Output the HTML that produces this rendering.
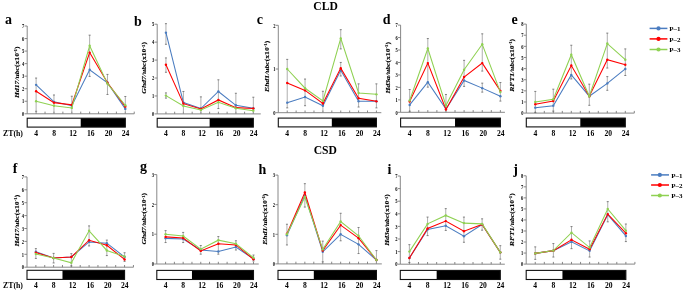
<!DOCTYPE html>
<html><head><meta charset="utf-8"><style>
html,body{margin:0;padding:0;background:#fff;}
body{width:685px;height:292px;overflow:hidden;}
svg{display:block;will-change:transform;}
text{font-family:"Liberation Serif",serif;font-weight:bold;fill:#000;}
.pl{font-size:14px;}
.yt{font-size:5.6px;text-anchor:end;fill:#000;}
.xt{font-size:7.6px;text-anchor:middle;}
.zt{font-size:7.8px;}
.tt{font-size:11.6px;}
.lg{font-size:7.0px;}
.yl{font-size:7.1px;text-anchor:middle;stroke:#000;stroke-width:0.12px;}
.sup{font-size:4.4px;}
.ax{stroke:#7a7a7a;stroke-width:0.9;}
.er{stroke:#9a9a9a;stroke-width:0.8;}
.ec{stroke:#666;stroke-width:0.8;}
.ln{stroke-width:1.05;stroke-linejoin:miter;}
</style></head><body>
<svg width="685" height="292" viewBox="0 0 685 292">
<rect width="685" height="292" fill="#fff"/>
<text x="5" y="23.9" class="pl">a</text>
<line x1="27.2" y1="26" x2="27.2" y2="113.8" class="ax"/>
<line x1="24.6" y1="113.8" x2="27.2" y2="113.8" class="ax"/>
<text transform="translate(24.3,116) scale(0.8,1)" class="yt">0</text>
<line x1="24.6" y1="101.26" x2="27.2" y2="101.26" class="ax"/>
<text transform="translate(24.3,103.46) scale(0.8,1)" class="yt">1</text>
<line x1="24.6" y1="88.71" x2="27.2" y2="88.71" class="ax"/>
<text transform="translate(24.3,90.91) scale(0.8,1)" class="yt">2</text>
<line x1="24.6" y1="76.17" x2="27.2" y2="76.17" class="ax"/>
<text transform="translate(24.3,78.37) scale(0.8,1)" class="yt">3</text>
<line x1="24.6" y1="63.63" x2="27.2" y2="63.63" class="ax"/>
<text transform="translate(24.3,65.83) scale(0.8,1)" class="yt">4</text>
<line x1="24.6" y1="51.09" x2="27.2" y2="51.09" class="ax"/>
<text transform="translate(24.3,53.29) scale(0.8,1)" class="yt">5</text>
<line x1="24.6" y1="38.54" x2="27.2" y2="38.54" class="ax"/>
<text transform="translate(24.3,40.74) scale(0.8,1)" class="yt">6</text>
<line x1="24.6" y1="26" x2="27.2" y2="26" class="ax"/>
<text transform="translate(24.3,28.2) scale(0.8,1)" class="yt">7</text>
<line x1="27.2" y1="113.8" x2="134.24" y2="113.8" class="ax"/>
<line x1="36.12" y1="111.6" x2="36.12" y2="113.8" class="ax"/>
<line x1="45.04" y1="111.6" x2="45.04" y2="113.8" class="ax"/>
<line x1="53.96" y1="111.6" x2="53.96" y2="113.8" class="ax"/>
<line x1="62.88" y1="111.6" x2="62.88" y2="113.8" class="ax"/>
<line x1="71.8" y1="111.6" x2="71.8" y2="113.8" class="ax"/>
<line x1="80.72" y1="111.6" x2="80.72" y2="113.8" class="ax"/>
<line x1="89.64" y1="111.6" x2="89.64" y2="113.8" class="ax"/>
<line x1="98.56" y1="111.6" x2="98.56" y2="113.8" class="ax"/>
<line x1="107.48" y1="111.6" x2="107.48" y2="113.8" class="ax"/>
<line x1="116.4" y1="111.6" x2="116.4" y2="113.8" class="ax"/>
<line x1="125.32" y1="111.6" x2="125.32" y2="113.8" class="ax"/>
<line x1="134.24" y1="111.6" x2="134.24" y2="113.8" class="ax"/>
<line x1="36.12" y1="78.05" x2="36.12" y2="111.29" class="er"/>
<line x1="35.12" y1="78.05" x2="37.12" y2="78.05" class="ec"/>
<line x1="35.12" y1="111.29" x2="37.12" y2="111.29" class="ec"/>
<line x1="53.96" y1="94.99" x2="53.96" y2="113.8" class="er"/>
<line x1="52.96" y1="94.99" x2="54.96" y2="94.99" class="ec"/>
<line x1="71.8" y1="96.24" x2="71.8" y2="113.8" class="er"/>
<line x1="70.8" y1="96.24" x2="72.8" y2="96.24" class="ec"/>
<line x1="89.64" y1="35.16" x2="89.64" y2="76.42" class="er"/>
<line x1="88.64" y1="35.16" x2="90.64" y2="35.16" class="ec"/>
<line x1="88.64" y1="76.42" x2="90.64" y2="76.42" class="ec"/>
<line x1="107.48" y1="74.42" x2="107.48" y2="94.48" class="er"/>
<line x1="106.48" y1="74.42" x2="108.48" y2="74.42" class="ec"/>
<line x1="106.48" y1="94.48" x2="108.48" y2="94.48" class="ec"/>
<line x1="125.32" y1="96.49" x2="125.32" y2="113.8" class="er"/>
<line x1="124.32" y1="96.49" x2="126.32" y2="96.49" class="ec"/>
<polyline points="36.12,84.83 53.96,101.88 71.8,105.65 89.64,69.77 107.48,82.82 125.32,108.91" fill="none" stroke="#4a7cc0" class="ln"/>
<circle cx="36.12" cy="84.83" r="1.2" fill="#4a7cc0"/>
<circle cx="53.96" cy="101.88" r="1.2" fill="#4a7cc0"/>
<circle cx="71.8" cy="105.65" r="1.2" fill="#4a7cc0"/>
<circle cx="89.64" cy="69.77" r="1.2" fill="#4a7cc0"/>
<circle cx="107.48" cy="82.82" r="1.2" fill="#4a7cc0"/>
<circle cx="125.32" cy="108.91" r="1.2" fill="#4a7cc0"/>
<polyline points="36.12,91.22 53.96,102.64 71.8,104.89 89.64,52.59 107.48,82.82 125.32,106.65" fill="none" stroke="#ff0000" class="ln"/>
<circle cx="36.12" cy="91.22" r="1.2" fill="#ff0000"/>
<circle cx="53.96" cy="102.64" r="1.2" fill="#ff0000"/>
<circle cx="71.8" cy="104.89" r="1.2" fill="#ff0000"/>
<circle cx="89.64" cy="52.59" r="1.2" fill="#ff0000"/>
<circle cx="107.48" cy="82.82" r="1.2" fill="#ff0000"/>
<circle cx="125.32" cy="106.65" r="1.2" fill="#ff0000"/>
<polyline points="36.12,101.26 53.96,105.65 71.8,107.9 89.64,45.82 107.48,83.7 125.32,105.27" fill="none" stroke="#8fd152" class="ln"/>
<circle cx="36.12" cy="101.26" r="1.2" fill="#8fd152"/>
<circle cx="53.96" cy="105.65" r="1.2" fill="#8fd152"/>
<circle cx="71.8" cy="107.9" r="1.2" fill="#8fd152"/>
<circle cx="89.64" cy="45.82" r="1.2" fill="#8fd152"/>
<circle cx="107.48" cy="83.7" r="1.2" fill="#8fd152"/>
<circle cx="125.32" cy="105.27" r="1.2" fill="#8fd152"/>
<rect x="80.72" y="118.2" width="44.6" height="8.9" fill="#000"/>
<rect x="27.2" y="118.2" width="98.12" height="8.9" fill="none" stroke="#111" stroke-width="1.1"/>
<text x="36.12" y="136.4" class="xt">4</text>
<text x="54.06" y="136.4" class="xt">8</text>
<text x="73" y="136.4" class="xt">12</text>
<text x="90.74" y="136.4" class="xt">16</text>
<text x="108.48" y="136.4" class="xt">20</text>
<text x="125.62" y="136.4" class="xt">24</text>
<text transform="translate(18.9,72.25) rotate(-90) scale(1.08,1)" class="yl"><tspan font-style="italic">Hd17/ubc</tspan>(x10<tspan class="sup" dy="-1.8">-1</tspan><tspan dy="1.8">)</tspan></text>
<text x="134.1" y="26" class="pl">b</text>
<line x1="157.2" y1="24.2" x2="157.2" y2="113.9" class="ax"/>
<line x1="154.6" y1="113.9" x2="157.2" y2="113.9" class="ax"/>
<text transform="translate(154.3,116.1) scale(0.8,1)" class="yt">0</text>
<line x1="154.6" y1="95.96" x2="157.2" y2="95.96" class="ax"/>
<text transform="translate(154.3,98.16) scale(0.8,1)" class="yt">1</text>
<line x1="154.6" y1="78.02" x2="157.2" y2="78.02" class="ax"/>
<text transform="translate(154.3,80.22) scale(0.8,1)" class="yt">2</text>
<line x1="154.6" y1="60.08" x2="157.2" y2="60.08" class="ax"/>
<text transform="translate(154.3,62.28) scale(0.8,1)" class="yt">3</text>
<line x1="154.6" y1="42.14" x2="157.2" y2="42.14" class="ax"/>
<text transform="translate(154.3,44.34) scale(0.8,1)" class="yt">4</text>
<line x1="154.6" y1="24.2" x2="157.2" y2="24.2" class="ax"/>
<text transform="translate(154.3,26.4) scale(0.8,1)" class="yt">5</text>
<line x1="157.2" y1="113.9" x2="260.77" y2="113.9" class="ax"/>
<line x1="165.94" y1="111.7" x2="165.94" y2="113.9" class="ax"/>
<line x1="174.68" y1="111.7" x2="174.68" y2="113.9" class="ax"/>
<line x1="183.42" y1="111.7" x2="183.42" y2="113.9" class="ax"/>
<line x1="192.16" y1="111.7" x2="192.16" y2="113.9" class="ax"/>
<line x1="200.9" y1="111.7" x2="200.9" y2="113.9" class="ax"/>
<line x1="209.64" y1="111.7" x2="209.64" y2="113.9" class="ax"/>
<line x1="218.38" y1="111.7" x2="218.38" y2="113.9" class="ax"/>
<line x1="227.12" y1="111.7" x2="227.12" y2="113.9" class="ax"/>
<line x1="235.86" y1="111.7" x2="235.86" y2="113.9" class="ax"/>
<line x1="244.6" y1="111.7" x2="244.6" y2="113.9" class="ax"/>
<line x1="253.34" y1="111.7" x2="253.34" y2="113.9" class="ax"/>
<line x1="165.94" y1="23.66" x2="165.94" y2="44.29" class="er"/>
<line x1="164.94" y1="23.66" x2="166.94" y2="23.66" class="ec"/>
<line x1="164.94" y1="44.29" x2="166.94" y2="44.29" class="ec"/>
<line x1="165.94" y1="57.93" x2="165.94" y2="72.28" class="er"/>
<line x1="164.94" y1="57.93" x2="166.94" y2="57.93" class="ec"/>
<line x1="164.94" y1="72.28" x2="166.94" y2="72.28" class="ec"/>
<line x1="165.94" y1="92.91" x2="165.94" y2="98.11" class="er"/>
<line x1="164.94" y1="92.91" x2="166.94" y2="92.91" class="ec"/>
<line x1="164.94" y1="98.11" x2="166.94" y2="98.11" class="ec"/>
<line x1="183.42" y1="91.48" x2="183.42" y2="113.9" class="er"/>
<line x1="182.42" y1="91.48" x2="184.42" y2="91.48" class="ec"/>
<line x1="200.9" y1="96.86" x2="200.9" y2="113.9" class="er"/>
<line x1="199.9" y1="96.86" x2="201.9" y2="96.86" class="ec"/>
<line x1="218.38" y1="79.81" x2="218.38" y2="108.52" class="er"/>
<line x1="217.38" y1="79.81" x2="219.38" y2="79.81" class="ec"/>
<line x1="217.38" y1="108.52" x2="219.38" y2="108.52" class="ec"/>
<line x1="235.86" y1="93.27" x2="235.86" y2="113.9" class="er"/>
<line x1="234.86" y1="93.27" x2="236.86" y2="93.27" class="ec"/>
<line x1="253.34" y1="97.22" x2="253.34" y2="113.9" class="er"/>
<line x1="252.34" y1="97.22" x2="254.34" y2="97.22" class="ec"/>
<polyline points="165.94,32.63 183.42,102.6 200.9,108.52 218.38,91.48 235.86,105.29 253.34,108.34" fill="none" stroke="#4a7cc0" class="ln"/>
<circle cx="165.94" cy="32.63" r="1.2" fill="#4a7cc0"/>
<circle cx="183.42" cy="102.6" r="1.2" fill="#4a7cc0"/>
<circle cx="200.9" cy="108.52" r="1.2" fill="#4a7cc0"/>
<circle cx="218.38" cy="91.48" r="1.2" fill="#4a7cc0"/>
<circle cx="235.86" cy="105.29" r="1.2" fill="#4a7cc0"/>
<circle cx="253.34" cy="108.34" r="1.2" fill="#4a7cc0"/>
<polyline points="165.94,64.74 183.42,103.67 200.9,108.88 218.38,99.91 235.86,107.62 253.34,108.52" fill="none" stroke="#ff0000" class="ln"/>
<circle cx="165.94" cy="64.74" r="1.2" fill="#ff0000"/>
<circle cx="183.42" cy="103.67" r="1.2" fill="#ff0000"/>
<circle cx="200.9" cy="108.88" r="1.2" fill="#ff0000"/>
<circle cx="218.38" cy="99.91" r="1.2" fill="#ff0000"/>
<circle cx="235.86" cy="107.62" r="1.2" fill="#ff0000"/>
<circle cx="253.34" cy="108.52" r="1.2" fill="#ff0000"/>
<polyline points="165.94,95.6 183.42,106.01 200.9,109.95 218.38,102.24 235.86,108.34 253.34,110.67" fill="none" stroke="#8fd152" class="ln"/>
<circle cx="165.94" cy="95.6" r="1.2" fill="#8fd152"/>
<circle cx="183.42" cy="106.01" r="1.2" fill="#8fd152"/>
<circle cx="200.9" cy="109.95" r="1.2" fill="#8fd152"/>
<circle cx="218.38" cy="102.24" r="1.2" fill="#8fd152"/>
<circle cx="235.86" cy="108.34" r="1.2" fill="#8fd152"/>
<circle cx="253.34" cy="110.67" r="1.2" fill="#8fd152"/>
<rect x="209.64" y="118.3" width="43.7" height="8.8" fill="#000"/>
<rect x="157.2" y="118.3" width="96.14" height="8.8" fill="none" stroke="#111" stroke-width="1.1"/>
<text x="165.94" y="136.4" class="xt">4</text>
<text x="183.52" y="136.4" class="xt">8</text>
<text x="202.1" y="136.4" class="xt">12</text>
<text x="219.48" y="136.4" class="xt">16</text>
<text x="236.86" y="136.4" class="xt">20</text>
<text x="253.64" y="136.4" class="xt">24</text>
<text transform="translate(146.3,67.85) rotate(-90) scale(1.08,1)" class="yl"><tspan font-style="italic">Ghd7/ubc</tspan>(x10<tspan class="sup" dy="-1.8">-1</tspan><tspan dy="1.8">)</tspan></text>
<text x="256.7" y="23.9" class="pl">c</text>
<line x1="278.3" y1="25.3" x2="278.3" y2="112.7" class="ax"/>
<line x1="275.7" y1="112.7" x2="278.3" y2="112.7" class="ax"/>
<text transform="translate(275.4,114.9) scale(0.8,1)" class="yt">0</text>
<line x1="275.7" y1="69" x2="278.3" y2="69" class="ax"/>
<text transform="translate(275.4,71.2) scale(0.8,1)" class="yt">1</text>
<line x1="275.7" y1="25.3" x2="278.3" y2="25.3" class="ax"/>
<text transform="translate(275.4,27.5) scale(0.8,1)" class="yt">2</text>
<line x1="278.3" y1="112.7" x2="381.33" y2="112.7" class="ax"/>
<line x1="287.22" y1="110.5" x2="287.22" y2="112.7" class="ax"/>
<line x1="296.14" y1="110.5" x2="296.14" y2="112.7" class="ax"/>
<line x1="305.06" y1="110.5" x2="305.06" y2="112.7" class="ax"/>
<line x1="313.98" y1="110.5" x2="313.98" y2="112.7" class="ax"/>
<line x1="322.9" y1="110.5" x2="322.9" y2="112.7" class="ax"/>
<line x1="331.82" y1="110.5" x2="331.82" y2="112.7" class="ax"/>
<line x1="340.74" y1="110.5" x2="340.74" y2="112.7" class="ax"/>
<line x1="349.66" y1="110.5" x2="349.66" y2="112.7" class="ax"/>
<line x1="358.58" y1="110.5" x2="358.58" y2="112.7" class="ax"/>
<line x1="367.5" y1="110.5" x2="367.5" y2="112.7" class="ax"/>
<line x1="376.42" y1="110.5" x2="376.42" y2="112.7" class="ax"/>
<line x1="287.22" y1="59.39" x2="287.22" y2="107.89" class="er"/>
<line x1="286.22" y1="59.39" x2="288.22" y2="59.39" class="ec"/>
<line x1="286.22" y1="107.89" x2="288.22" y2="107.89" class="ec"/>
<line x1="305.06" y1="79.05" x2="305.06" y2="105.71" class="er"/>
<line x1="304.06" y1="79.05" x2="306.06" y2="79.05" class="ec"/>
<line x1="304.06" y1="105.71" x2="306.06" y2="105.71" class="ec"/>
<line x1="322.9" y1="91.29" x2="322.9" y2="112.7" class="er"/>
<line x1="321.9" y1="91.29" x2="323.9" y2="91.29" class="ec"/>
<line x1="340.74" y1="29.67" x2="340.74" y2="48.9" class="er"/>
<line x1="339.74" y1="29.67" x2="341.74" y2="29.67" class="ec"/>
<line x1="339.74" y1="48.9" x2="341.74" y2="48.9" class="ec"/>
<line x1="340.74" y1="62.45" x2="340.74" y2="75.99" class="er"/>
<line x1="339.74" y1="62.45" x2="341.74" y2="62.45" class="ec"/>
<line x1="339.74" y1="75.99" x2="341.74" y2="75.99" class="ec"/>
<line x1="358.58" y1="83.86" x2="358.58" y2="107.02" class="er"/>
<line x1="357.58" y1="83.86" x2="359.58" y2="83.86" class="ec"/>
<line x1="357.58" y1="107.02" x2="359.58" y2="107.02" class="ec"/>
<line x1="376.42" y1="83.86" x2="376.42" y2="107.89" class="er"/>
<line x1="375.42" y1="83.86" x2="377.42" y2="83.86" class="ec"/>
<line x1="375.42" y1="107.89" x2="377.42" y2="107.89" class="ec"/>
<polyline points="287.22,102.65 305.06,96.97 322.9,105.71 340.74,70.31 358.58,101.34 376.42,101.34" fill="none" stroke="#4a7cc0" class="ln"/>
<circle cx="287.22" cy="102.65" r="1.2" fill="#4a7cc0"/>
<circle cx="305.06" cy="96.97" r="1.2" fill="#4a7cc0"/>
<circle cx="322.9" cy="105.71" r="1.2" fill="#4a7cc0"/>
<circle cx="340.74" cy="70.31" r="1.2" fill="#4a7cc0"/>
<circle cx="358.58" cy="101.34" r="1.2" fill="#4a7cc0"/>
<circle cx="376.42" cy="101.34" r="1.2" fill="#4a7cc0"/>
<polyline points="287.22,82.98 305.06,90.41 322.9,103.52 340.74,68.13 358.58,98.28 376.42,101.34" fill="none" stroke="#ff0000" class="ln"/>
<circle cx="287.22" cy="82.98" r="1.2" fill="#ff0000"/>
<circle cx="305.06" cy="90.41" r="1.2" fill="#ff0000"/>
<circle cx="322.9" cy="103.52" r="1.2" fill="#ff0000"/>
<circle cx="340.74" cy="68.13" r="1.2" fill="#ff0000"/>
<circle cx="358.58" cy="98.28" r="1.2" fill="#ff0000"/>
<circle cx="376.42" cy="101.34" r="1.2" fill="#ff0000"/>
<polyline points="287.22,69 305.06,88.23 322.9,100.9 340.74,38.41 358.58,93.03 376.42,94.35" fill="none" stroke="#8fd152" class="ln"/>
<circle cx="287.22" cy="69" r="1.2" fill="#8fd152"/>
<circle cx="305.06" cy="88.23" r="1.2" fill="#8fd152"/>
<circle cx="322.9" cy="100.9" r="1.2" fill="#8fd152"/>
<circle cx="340.74" cy="38.41" r="1.2" fill="#8fd152"/>
<circle cx="358.58" cy="93.03" r="1.2" fill="#8fd152"/>
<circle cx="376.42" cy="94.35" r="1.2" fill="#8fd152"/>
<rect x="331.82" y="118.1" width="44.6" height="8.8" fill="#000"/>
<rect x="278.3" y="118.1" width="98.12" height="8.8" fill="none" stroke="#111" stroke-width="1.1"/>
<text x="287.22" y="136.4" class="xt">4</text>
<text x="305.16" y="136.4" class="xt">8</text>
<text x="324.1" y="136.4" class="xt">12</text>
<text x="341.84" y="136.4" class="xt">16</text>
<text x="359.58" y="136.4" class="xt">20</text>
<text x="376.72" y="136.4" class="xt">24</text>
<text transform="translate(268.7,66.3) rotate(-90) scale(1.08,1)" class="yl"><tspan font-style="italic">Ehd1/ubc</tspan>(x10<tspan class="sup" dy="-1.8">-1</tspan><tspan dy="1.8">)</tspan></text>
<text x="382.7" y="24.1" class="pl">d</text>
<line x1="400.6" y1="25.1" x2="400.6" y2="112.3" class="ax"/>
<line x1="398" y1="112.3" x2="400.6" y2="112.3" class="ax"/>
<text transform="translate(397.7,114.5) scale(0.8,1)" class="yt">0</text>
<line x1="398" y1="99.84" x2="400.6" y2="99.84" class="ax"/>
<text transform="translate(397.7,102.04) scale(0.8,1)" class="yt">1</text>
<line x1="398" y1="87.39" x2="400.6" y2="87.39" class="ax"/>
<text transform="translate(397.7,89.59) scale(0.8,1)" class="yt">2</text>
<line x1="398" y1="74.93" x2="400.6" y2="74.93" class="ax"/>
<text transform="translate(397.7,77.13) scale(0.8,1)" class="yt">3</text>
<line x1="398" y1="62.47" x2="400.6" y2="62.47" class="ax"/>
<text transform="translate(397.7,64.67) scale(0.8,1)" class="yt">4</text>
<line x1="398" y1="50.01" x2="400.6" y2="50.01" class="ax"/>
<text transform="translate(397.7,52.21) scale(0.8,1)" class="yt">5</text>
<line x1="398" y1="37.56" x2="400.6" y2="37.56" class="ax"/>
<text transform="translate(397.7,39.76) scale(0.8,1)" class="yt">6</text>
<line x1="398" y1="25.1" x2="400.6" y2="25.1" class="ax"/>
<text transform="translate(397.7,27.3) scale(0.8,1)" class="yt">7</text>
<line x1="400.6" y1="112.3" x2="504.93" y2="112.3" class="ax"/>
<line x1="409.67" y1="110.1" x2="409.67" y2="112.3" class="ax"/>
<line x1="418.74" y1="110.1" x2="418.74" y2="112.3" class="ax"/>
<line x1="427.82" y1="110.1" x2="427.82" y2="112.3" class="ax"/>
<line x1="436.89" y1="110.1" x2="436.89" y2="112.3" class="ax"/>
<line x1="445.96" y1="110.1" x2="445.96" y2="112.3" class="ax"/>
<line x1="455.03" y1="110.1" x2="455.03" y2="112.3" class="ax"/>
<line x1="464.1" y1="110.1" x2="464.1" y2="112.3" class="ax"/>
<line x1="473.18" y1="110.1" x2="473.18" y2="112.3" class="ax"/>
<line x1="482.25" y1="110.1" x2="482.25" y2="112.3" class="ax"/>
<line x1="491.32" y1="110.1" x2="491.32" y2="112.3" class="ax"/>
<line x1="500.39" y1="110.1" x2="500.39" y2="112.3" class="ax"/>
<line x1="409.67" y1="89.5" x2="409.67" y2="111.3" class="er"/>
<line x1="408.67" y1="89.5" x2="410.67" y2="89.5" class="ec"/>
<line x1="408.67" y1="111.3" x2="410.67" y2="111.3" class="ec"/>
<line x1="427.82" y1="38.55" x2="427.82" y2="87.14" class="er"/>
<line x1="426.82" y1="38.55" x2="428.82" y2="38.55" class="ec"/>
<line x1="426.82" y1="87.14" x2="428.82" y2="87.14" class="ec"/>
<line x1="445.96" y1="94.49" x2="445.96" y2="112.3" class="er"/>
<line x1="444.96" y1="94.49" x2="446.96" y2="94.49" class="ec"/>
<line x1="464.1" y1="60.35" x2="464.1" y2="86.39" class="er"/>
<line x1="463.1" y1="60.35" x2="465.1" y2="60.35" class="ec"/>
<line x1="463.1" y1="86.39" x2="465.1" y2="86.39" class="ec"/>
<line x1="482.25" y1="33.82" x2="482.25" y2="71.07" class="er"/>
<line x1="481.25" y1="33.82" x2="483.25" y2="33.82" class="ec"/>
<line x1="481.25" y1="71.07" x2="483.25" y2="71.07" class="ec"/>
<line x1="482.25" y1="83.15" x2="482.25" y2="92.12" class="er"/>
<line x1="481.25" y1="83.15" x2="483.25" y2="83.15" class="ec"/>
<line x1="481.25" y1="92.12" x2="483.25" y2="92.12" class="ec"/>
<line x1="500.39" y1="82.53" x2="500.39" y2="101.09" class="er"/>
<line x1="499.39" y1="82.53" x2="501.39" y2="82.53" class="ec"/>
<line x1="499.39" y1="101.09" x2="501.39" y2="101.09" class="ec"/>
<polyline points="409.67,104.95 427.82,82.15 445.96,108.94 464.1,80.41 482.25,88.13 500.39,96.23" fill="none" stroke="#4a7cc0" class="ln"/>
<circle cx="409.67" cy="104.95" r="1.2" fill="#4a7cc0"/>
<circle cx="427.82" cy="82.15" r="1.2" fill="#4a7cc0"/>
<circle cx="445.96" cy="108.94" r="1.2" fill="#4a7cc0"/>
<circle cx="464.1" cy="80.41" r="1.2" fill="#4a7cc0"/>
<circle cx="482.25" cy="88.13" r="1.2" fill="#4a7cc0"/>
<circle cx="500.39" cy="96.23" r="1.2" fill="#4a7cc0"/>
<polyline points="409.67,101.46 427.82,63.09 445.96,109.56 464.1,77.05 482.25,63.09 500.39,90.87" fill="none" stroke="#ff0000" class="ln"/>
<circle cx="409.67" cy="101.46" r="1.2" fill="#ff0000"/>
<circle cx="427.82" cy="63.09" r="1.2" fill="#ff0000"/>
<circle cx="445.96" cy="109.56" r="1.2" fill="#ff0000"/>
<circle cx="464.1" cy="77.05" r="1.2" fill="#ff0000"/>
<circle cx="482.25" cy="63.09" r="1.2" fill="#ff0000"/>
<circle cx="500.39" cy="90.87" r="1.2" fill="#ff0000"/>
<polyline points="409.67,100.47 427.82,48.52 445.96,105.57 464.1,69.7 482.25,44.28 500.39,92.12" fill="none" stroke="#8fd152" class="ln"/>
<circle cx="409.67" cy="100.47" r="1.2" fill="#8fd152"/>
<circle cx="427.82" cy="48.52" r="1.2" fill="#8fd152"/>
<circle cx="445.96" cy="105.57" r="1.2" fill="#8fd152"/>
<circle cx="464.1" cy="69.7" r="1.2" fill="#8fd152"/>
<circle cx="482.25" cy="44.28" r="1.2" fill="#8fd152"/>
<circle cx="500.39" cy="92.12" r="1.2" fill="#8fd152"/>
<rect x="455.03" y="118.1" width="45.36" height="8.8" fill="#000"/>
<rect x="400.6" y="118.1" width="99.79" height="8.8" fill="none" stroke="#111" stroke-width="1.1"/>
<text x="409.67" y="136.4" class="xt">4</text>
<text x="427.92" y="136.4" class="xt">8</text>
<text x="447.16" y="136.4" class="xt">12</text>
<text x="465.2" y="136.4" class="xt">16</text>
<text x="483.25" y="136.4" class="xt">20</text>
<text x="500.69" y="136.4" class="xt">24</text>
<text transform="translate(389.8,67.75) rotate(-90) scale(1.08,1)" class="yl"><tspan font-style="italic">Hd3a/ubc</tspan>(x10<tspan class="sup" dy="-1.8">-1</tspan><tspan dy="1.8">)</tspan></text>
<text x="511.6" y="23.5" class="pl">e</text>
<line x1="526.3" y1="24.1" x2="526.3" y2="113.1" class="ax"/>
<line x1="523.7" y1="113.1" x2="526.3" y2="113.1" class="ax"/>
<text transform="translate(523.4,115.3) scale(0.8,1)" class="yt">0</text>
<line x1="523.7" y1="101.97" x2="526.3" y2="101.97" class="ax"/>
<text transform="translate(523.4,104.17) scale(0.8,1)" class="yt">1</text>
<line x1="523.7" y1="90.85" x2="526.3" y2="90.85" class="ax"/>
<text transform="translate(523.4,93.05) scale(0.8,1)" class="yt">2</text>
<line x1="523.7" y1="79.72" x2="526.3" y2="79.72" class="ax"/>
<text transform="translate(523.4,81.92) scale(0.8,1)" class="yt">3</text>
<line x1="523.7" y1="68.6" x2="526.3" y2="68.6" class="ax"/>
<text transform="translate(523.4,70.8) scale(0.8,1)" class="yt">4</text>
<line x1="523.7" y1="57.47" x2="526.3" y2="57.47" class="ax"/>
<text transform="translate(523.4,59.67) scale(0.8,1)" class="yt">5</text>
<line x1="523.7" y1="46.35" x2="526.3" y2="46.35" class="ax"/>
<text transform="translate(523.4,48.55) scale(0.8,1)" class="yt">6</text>
<line x1="523.7" y1="35.22" x2="526.3" y2="35.22" class="ax"/>
<text transform="translate(523.4,37.42) scale(0.8,1)" class="yt">7</text>
<line x1="523.7" y1="24.1" x2="526.3" y2="24.1" class="ax"/>
<text transform="translate(523.4,26.3) scale(0.8,1)" class="yt">8</text>
<line x1="526.3" y1="113.1" x2="634.3" y2="113.1" class="ax"/>
<line x1="535.3" y1="110.9" x2="535.3" y2="113.1" class="ax"/>
<line x1="544.3" y1="110.9" x2="544.3" y2="113.1" class="ax"/>
<line x1="553.3" y1="110.9" x2="553.3" y2="113.1" class="ax"/>
<line x1="562.3" y1="110.9" x2="562.3" y2="113.1" class="ax"/>
<line x1="571.3" y1="110.9" x2="571.3" y2="113.1" class="ax"/>
<line x1="580.3" y1="110.9" x2="580.3" y2="113.1" class="ax"/>
<line x1="589.3" y1="110.9" x2="589.3" y2="113.1" class="ax"/>
<line x1="598.3" y1="110.9" x2="598.3" y2="113.1" class="ax"/>
<line x1="607.3" y1="110.9" x2="607.3" y2="113.1" class="ax"/>
<line x1="616.3" y1="110.9" x2="616.3" y2="113.1" class="ax"/>
<line x1="625.3" y1="110.9" x2="625.3" y2="113.1" class="ax"/>
<line x1="634.3" y1="110.9" x2="634.3" y2="113.1" class="ax"/>
<line x1="535.3" y1="91.41" x2="535.3" y2="112.54" class="er"/>
<line x1="534.3" y1="91.41" x2="536.3" y2="91.41" class="ec"/>
<line x1="534.3" y1="112.54" x2="536.3" y2="112.54" class="ec"/>
<line x1="553.3" y1="89.18" x2="553.3" y2="111.1" class="er"/>
<line x1="552.3" y1="89.18" x2="554.3" y2="89.18" class="ec"/>
<line x1="552.3" y1="111.1" x2="554.3" y2="111.1" class="ec"/>
<line x1="571.3" y1="45.24" x2="571.3" y2="78.95" class="er"/>
<line x1="570.3" y1="45.24" x2="572.3" y2="45.24" class="ec"/>
<line x1="570.3" y1="78.95" x2="572.3" y2="78.95" class="ec"/>
<line x1="589.3" y1="84.17" x2="589.3" y2="105.31" class="er"/>
<line x1="588.3" y1="84.17" x2="590.3" y2="84.17" class="ec"/>
<line x1="588.3" y1="105.31" x2="590.3" y2="105.31" class="ec"/>
<line x1="607.3" y1="33.11" x2="607.3" y2="68.04" class="er"/>
<line x1="606.3" y1="33.11" x2="608.3" y2="33.11" class="ec"/>
<line x1="606.3" y1="68.04" x2="608.3" y2="68.04" class="ec"/>
<line x1="607.3" y1="76.61" x2="607.3" y2="90.29" class="er"/>
<line x1="606.3" y1="76.61" x2="608.3" y2="76.61" class="ec"/>
<line x1="606.3" y1="90.29" x2="608.3" y2="90.29" class="ec"/>
<line x1="625.3" y1="48.91" x2="625.3" y2="75.5" class="er"/>
<line x1="624.3" y1="48.91" x2="626.3" y2="48.91" class="ec"/>
<line x1="624.3" y1="75.5" x2="626.3" y2="75.5" class="ec"/>
<polyline points="535.3,107.65 553.3,105.65 571.3,74.94 589.3,96.19 607.3,83.4 625.3,68.93" fill="none" stroke="#4a7cc0" class="ln"/>
<circle cx="535.3" cy="107.65" r="1.2" fill="#4a7cc0"/>
<circle cx="553.3" cy="105.65" r="1.2" fill="#4a7cc0"/>
<circle cx="571.3" cy="74.94" r="1.2" fill="#4a7cc0"/>
<circle cx="589.3" cy="96.19" r="1.2" fill="#4a7cc0"/>
<circle cx="607.3" cy="83.4" r="1.2" fill="#4a7cc0"/>
<circle cx="625.3" cy="68.93" r="1.2" fill="#4a7cc0"/>
<polyline points="535.3,104.31 553.3,100.97 571.3,65.48 589.3,96.19 607.3,59.7 625.3,64.71" fill="none" stroke="#ff0000" class="ln"/>
<circle cx="535.3" cy="104.31" r="1.2" fill="#ff0000"/>
<circle cx="553.3" cy="100.97" r="1.2" fill="#ff0000"/>
<circle cx="571.3" cy="65.48" r="1.2" fill="#ff0000"/>
<circle cx="589.3" cy="96.19" r="1.2" fill="#ff0000"/>
<circle cx="607.3" cy="59.7" r="1.2" fill="#ff0000"/>
<circle cx="625.3" cy="64.71" r="1.2" fill="#ff0000"/>
<polyline points="535.3,101.97 553.3,99.3 571.3,54.69 589.3,96.19 607.3,43.57 625.3,59.7" fill="none" stroke="#8fd152" class="ln"/>
<circle cx="535.3" cy="101.97" r="1.2" fill="#8fd152"/>
<circle cx="553.3" cy="99.3" r="1.2" fill="#8fd152"/>
<circle cx="571.3" cy="54.69" r="1.2" fill="#8fd152"/>
<circle cx="589.3" cy="96.19" r="1.2" fill="#8fd152"/>
<circle cx="607.3" cy="43.57" r="1.2" fill="#8fd152"/>
<circle cx="625.3" cy="59.7" r="1.2" fill="#8fd152"/>
<rect x="580.3" y="118.1" width="45" height="8.8" fill="#000"/>
<rect x="526.3" y="118.1" width="99" height="8.8" fill="none" stroke="#111" stroke-width="1.1"/>
<text x="535.3" y="136.4" class="xt">4</text>
<text x="553.4" y="136.4" class="xt">8</text>
<text x="572.5" y="136.4" class="xt">12</text>
<text x="590.4" y="136.4" class="xt">16</text>
<text x="608.3" y="136.4" class="xt">20</text>
<text x="625.6" y="136.4" class="xt">24</text>
<text transform="translate(513.7,65.3) rotate(-90) scale(1.08,1)" class="yl"><tspan font-style="italic">RFT1/ubc</tspan>(x10<tspan class="sup" dy="-1.8">-1</tspan><tspan dy="1.8">)</tspan></text>
<text x="12.8" y="173.4" class="pl">f</text>
<line x1="27" y1="176.9" x2="27" y2="267.2" class="ax"/>
<line x1="24.4" y1="267.2" x2="27" y2="267.2" class="ax"/>
<text transform="translate(24.1,269.4) scale(0.8,1)" class="yt">0</text>
<line x1="24.4" y1="254.3" x2="27" y2="254.3" class="ax"/>
<text transform="translate(24.1,256.5) scale(0.8,1)" class="yt">1</text>
<line x1="24.4" y1="241.4" x2="27" y2="241.4" class="ax"/>
<text transform="translate(24.1,243.6) scale(0.8,1)" class="yt">2</text>
<line x1="24.4" y1="228.5" x2="27" y2="228.5" class="ax"/>
<text transform="translate(24.1,230.7) scale(0.8,1)" class="yt">3</text>
<line x1="24.4" y1="215.6" x2="27" y2="215.6" class="ax"/>
<text transform="translate(24.1,217.8) scale(0.8,1)" class="yt">4</text>
<line x1="24.4" y1="202.7" x2="27" y2="202.7" class="ax"/>
<text transform="translate(24.1,204.9) scale(0.8,1)" class="yt">5</text>
<line x1="24.4" y1="189.8" x2="27" y2="189.8" class="ax"/>
<text transform="translate(24.1,192) scale(0.8,1)" class="yt">6</text>
<line x1="24.4" y1="176.9" x2="27" y2="176.9" class="ax"/>
<text transform="translate(24.1,179.1) scale(0.8,1)" class="yt">7</text>
<line x1="27" y1="267.2" x2="133.44" y2="267.2" class="ax"/>
<line x1="35.87" y1="265" x2="35.87" y2="267.2" class="ax"/>
<line x1="44.74" y1="265" x2="44.74" y2="267.2" class="ax"/>
<line x1="53.61" y1="265" x2="53.61" y2="267.2" class="ax"/>
<line x1="62.48" y1="265" x2="62.48" y2="267.2" class="ax"/>
<line x1="71.35" y1="265" x2="71.35" y2="267.2" class="ax"/>
<line x1="80.22" y1="265" x2="80.22" y2="267.2" class="ax"/>
<line x1="89.09" y1="265" x2="89.09" y2="267.2" class="ax"/>
<line x1="97.96" y1="265" x2="97.96" y2="267.2" class="ax"/>
<line x1="106.83" y1="265" x2="106.83" y2="267.2" class="ax"/>
<line x1="115.7" y1="265" x2="115.7" y2="267.2" class="ax"/>
<line x1="124.57" y1="265" x2="124.57" y2="267.2" class="ax"/>
<line x1="133.44" y1="265" x2="133.44" y2="267.2" class="ax"/>
<line x1="35.87" y1="248.62" x2="35.87" y2="258.43" class="er"/>
<line x1="34.87" y1="248.62" x2="36.87" y2="248.62" class="ec"/>
<line x1="34.87" y1="258.43" x2="36.87" y2="258.43" class="ec"/>
<line x1="53.61" y1="253.4" x2="53.61" y2="262.94" class="er"/>
<line x1="52.61" y1="253.4" x2="54.61" y2="253.4" class="ec"/>
<line x1="52.61" y1="262.94" x2="54.61" y2="262.94" class="ec"/>
<line x1="71.35" y1="253.66" x2="71.35" y2="265.91" class="er"/>
<line x1="70.35" y1="253.66" x2="72.35" y2="253.66" class="ec"/>
<line x1="70.35" y1="265.91" x2="72.35" y2="265.91" class="ec"/>
<line x1="89.09" y1="225.92" x2="89.09" y2="245.91" class="er"/>
<line x1="88.09" y1="225.92" x2="90.09" y2="225.92" class="ec"/>
<line x1="88.09" y1="245.91" x2="90.09" y2="245.91" class="ec"/>
<line x1="106.83" y1="240.11" x2="106.83" y2="255.59" class="er"/>
<line x1="105.83" y1="240.11" x2="107.83" y2="240.11" class="ec"/>
<line x1="105.83" y1="255.59" x2="107.83" y2="255.59" class="ec"/>
<line x1="124.57" y1="252.75" x2="124.57" y2="261.39" class="er"/>
<line x1="123.57" y1="252.75" x2="125.57" y2="252.75" class="ec"/>
<line x1="123.57" y1="261.39" x2="125.57" y2="261.39" class="ec"/>
<polyline points="35.87,251.72 53.61,258.04 71.35,257.01 89.09,241.92 106.83,243.21 124.57,257.01" fill="none" stroke="#4a7cc0" class="ln"/>
<circle cx="35.87" cy="251.72" r="1.2" fill="#4a7cc0"/>
<circle cx="53.61" cy="258.04" r="1.2" fill="#4a7cc0"/>
<circle cx="71.35" cy="257.01" r="1.2" fill="#4a7cc0"/>
<circle cx="89.09" cy="241.92" r="1.2" fill="#4a7cc0"/>
<circle cx="106.83" cy="243.21" r="1.2" fill="#4a7cc0"/>
<circle cx="124.57" cy="257.01" r="1.2" fill="#4a7cc0"/>
<polyline points="35.87,252.62 53.61,258.04 71.35,257.01 89.09,240.24 106.83,245.27 124.57,259.46" fill="none" stroke="#ff0000" class="ln"/>
<circle cx="35.87" cy="252.62" r="1.2" fill="#ff0000"/>
<circle cx="53.61" cy="258.04" r="1.2" fill="#ff0000"/>
<circle cx="71.35" cy="257.01" r="1.2" fill="#ff0000"/>
<circle cx="89.09" cy="240.24" r="1.2" fill="#ff0000"/>
<circle cx="106.83" cy="245.27" r="1.2" fill="#ff0000"/>
<circle cx="124.57" cy="259.46" r="1.2" fill="#ff0000"/>
<polyline points="35.87,254.04 53.61,258.04 71.35,262.81 89.09,230.82 106.83,250.43 124.57,256.49" fill="none" stroke="#8fd152" class="ln"/>
<circle cx="35.87" cy="254.04" r="1.2" fill="#8fd152"/>
<circle cx="53.61" cy="258.04" r="1.2" fill="#8fd152"/>
<circle cx="71.35" cy="262.81" r="1.2" fill="#8fd152"/>
<circle cx="89.09" cy="230.82" r="1.2" fill="#8fd152"/>
<circle cx="106.83" cy="250.43" r="1.2" fill="#8fd152"/>
<circle cx="124.57" cy="256.49" r="1.2" fill="#8fd152"/>
<rect x="62.48" y="270.3" width="62.09" height="9.1" fill="#000"/>
<rect x="27" y="270.3" width="97.57" height="9.1" fill="none" stroke="#111" stroke-width="1.1"/>
<text x="35.87" y="288.1" class="xt">4</text>
<text x="53.71" y="288.1" class="xt">8</text>
<text x="72.55" y="288.1" class="xt">12</text>
<text x="90.19" y="288.1" class="xt">16</text>
<text x="107.83" y="288.1" class="xt">20</text>
<text x="124.87" y="288.1" class="xt">24</text>
<text transform="translate(18.7,220.6) rotate(-90) scale(1.08,1)" class="yl"><tspan font-style="italic">Hd17/ubc</tspan>(x10<tspan class="sup" dy="-1.8">-1</tspan><tspan dy="1.8">)</tspan></text>
<text x="139.9" y="170.7" class="pl">g</text>
<line x1="156.8" y1="174.6" x2="156.8" y2="264" class="ax"/>
<line x1="154.2" y1="264" x2="156.8" y2="264" class="ax"/>
<text transform="translate(153.9,266.2) scale(0.8,1)" class="yt">0</text>
<line x1="154.2" y1="234.2" x2="156.8" y2="234.2" class="ax"/>
<text transform="translate(153.9,236.4) scale(0.8,1)" class="yt">1</text>
<line x1="154.2" y1="204.4" x2="156.8" y2="204.4" class="ax"/>
<text transform="translate(153.9,206.6) scale(0.8,1)" class="yt">2</text>
<line x1="154.2" y1="174.6" x2="156.8" y2="174.6" class="ax"/>
<text transform="translate(153.9,176.8) scale(0.8,1)" class="yt">3</text>
<line x1="156.8" y1="264" x2="258.76" y2="264" class="ax"/>
<line x1="165.59" y1="261.8" x2="165.59" y2="264" class="ax"/>
<line x1="174.38" y1="261.8" x2="174.38" y2="264" class="ax"/>
<line x1="183.17" y1="261.8" x2="183.17" y2="264" class="ax"/>
<line x1="191.96" y1="261.8" x2="191.96" y2="264" class="ax"/>
<line x1="200.75" y1="261.8" x2="200.75" y2="264" class="ax"/>
<line x1="209.54" y1="261.8" x2="209.54" y2="264" class="ax"/>
<line x1="218.33" y1="261.8" x2="218.33" y2="264" class="ax"/>
<line x1="227.12" y1="261.8" x2="227.12" y2="264" class="ax"/>
<line x1="235.91" y1="261.8" x2="235.91" y2="264" class="ax"/>
<line x1="244.7" y1="261.8" x2="244.7" y2="264" class="ax"/>
<line x1="253.49" y1="261.8" x2="253.49" y2="264" class="ax"/>
<line x1="165.59" y1="230.62" x2="165.59" y2="242.54" class="er"/>
<line x1="164.59" y1="230.62" x2="166.59" y2="230.62" class="ec"/>
<line x1="164.59" y1="242.54" x2="166.59" y2="242.54" class="ec"/>
<line x1="183.17" y1="232.41" x2="183.17" y2="242.54" class="er"/>
<line x1="182.17" y1="232.41" x2="184.17" y2="232.41" class="ec"/>
<line x1="182.17" y1="242.54" x2="184.17" y2="242.54" class="ec"/>
<line x1="200.75" y1="245.52" x2="200.75" y2="254.17" class="er"/>
<line x1="199.75" y1="245.52" x2="201.75" y2="245.52" class="ec"/>
<line x1="199.75" y1="254.17" x2="201.75" y2="254.17" class="ec"/>
<line x1="218.33" y1="236.58" x2="218.33" y2="254.17" class="er"/>
<line x1="217.33" y1="236.58" x2="219.33" y2="236.58" class="ec"/>
<line x1="217.33" y1="254.17" x2="219.33" y2="254.17" class="ec"/>
<line x1="235.91" y1="240.76" x2="235.91" y2="249.99" class="er"/>
<line x1="234.91" y1="240.76" x2="236.91" y2="240.76" class="ec"/>
<line x1="234.91" y1="249.99" x2="236.91" y2="249.99" class="ec"/>
<line x1="253.49" y1="255.06" x2="253.49" y2="261.02" class="er"/>
<line x1="252.49" y1="255.06" x2="254.49" y2="255.06" class="ec"/>
<line x1="252.49" y1="261.02" x2="254.49" y2="261.02" class="ec"/>
<polyline points="165.59,238.37 183.17,238.97 200.75,249.99 218.33,251.48 235.91,247.01 253.49,258.93" fill="none" stroke="#4a7cc0" class="ln"/>
<circle cx="165.59" cy="238.37" r="1.2" fill="#4a7cc0"/>
<circle cx="183.17" cy="238.97" r="1.2" fill="#4a7cc0"/>
<circle cx="200.75" cy="249.99" r="1.2" fill="#4a7cc0"/>
<circle cx="218.33" cy="251.48" r="1.2" fill="#4a7cc0"/>
<circle cx="235.91" cy="247.01" r="1.2" fill="#4a7cc0"/>
<circle cx="253.49" cy="258.93" r="1.2" fill="#4a7cc0"/>
<polyline points="165.59,236.88 183.17,238.07 200.75,250.89 218.33,243.74 235.91,244.93 253.49,259.23" fill="none" stroke="#ff0000" class="ln"/>
<circle cx="165.59" cy="236.88" r="1.2" fill="#ff0000"/>
<circle cx="183.17" cy="238.07" r="1.2" fill="#ff0000"/>
<circle cx="200.75" cy="250.89" r="1.2" fill="#ff0000"/>
<circle cx="218.33" cy="243.74" r="1.2" fill="#ff0000"/>
<circle cx="235.91" cy="244.93" r="1.2" fill="#ff0000"/>
<circle cx="253.49" cy="259.23" r="1.2" fill="#ff0000"/>
<polyline points="165.59,234.2 183.17,235.99 200.75,249.1 218.33,240.16 235.91,243.74 253.49,257.74" fill="none" stroke="#8fd152" class="ln"/>
<circle cx="165.59" cy="234.2" r="1.2" fill="#8fd152"/>
<circle cx="183.17" cy="235.99" r="1.2" fill="#8fd152"/>
<circle cx="200.75" cy="249.1" r="1.2" fill="#8fd152"/>
<circle cx="218.33" cy="240.16" r="1.2" fill="#8fd152"/>
<circle cx="235.91" cy="243.74" r="1.2" fill="#8fd152"/>
<circle cx="253.49" cy="257.74" r="1.2" fill="#8fd152"/>
<rect x="191.96" y="270.4" width="61.53" height="9.1" fill="#000"/>
<rect x="156.8" y="270.4" width="96.69" height="9.1" fill="none" stroke="#111" stroke-width="1.1"/>
<text x="165.59" y="288.1" class="xt">4</text>
<text x="183.27" y="288.1" class="xt">8</text>
<text x="201.95" y="288.1" class="xt">12</text>
<text x="219.43" y="288.1" class="xt">16</text>
<text x="236.91" y="288.1" class="xt">20</text>
<text x="253.79" y="288.1" class="xt">24</text>
<text transform="translate(146.3,218.7) rotate(-90) scale(1.08,1)" class="yl"><tspan font-style="italic">Ghd7/ubc</tspan>(x10<tspan class="sup" dy="-1.8">-1</tspan><tspan dy="1.8">)</tspan></text>
<text x="258.6" y="173.5" class="pl">h</text>
<line x1="278" y1="175.1" x2="278" y2="263.9" class="ax"/>
<line x1="275.4" y1="263.9" x2="278" y2="263.9" class="ax"/>
<text transform="translate(275.1,266.1) scale(0.8,1)" class="yt">0</text>
<line x1="275.4" y1="234.3" x2="278" y2="234.3" class="ax"/>
<text transform="translate(275.1,236.5) scale(0.8,1)" class="yt">1</text>
<line x1="275.4" y1="204.7" x2="278" y2="204.7" class="ax"/>
<text transform="translate(275.1,206.9) scale(0.8,1)" class="yt">2</text>
<line x1="275.4" y1="175.1" x2="278" y2="175.1" class="ax"/>
<text transform="translate(275.1,177.3) scale(0.8,1)" class="yt">3</text>
<line x1="278" y1="263.9" x2="381.82" y2="263.9" class="ax"/>
<line x1="286.95" y1="261.7" x2="286.95" y2="263.9" class="ax"/>
<line x1="295.9" y1="261.7" x2="295.9" y2="263.9" class="ax"/>
<line x1="304.85" y1="261.7" x2="304.85" y2="263.9" class="ax"/>
<line x1="313.8" y1="261.7" x2="313.8" y2="263.9" class="ax"/>
<line x1="322.75" y1="261.7" x2="322.75" y2="263.9" class="ax"/>
<line x1="331.7" y1="261.7" x2="331.7" y2="263.9" class="ax"/>
<line x1="340.65" y1="261.7" x2="340.65" y2="263.9" class="ax"/>
<line x1="349.6" y1="261.7" x2="349.6" y2="263.9" class="ax"/>
<line x1="358.55" y1="261.7" x2="358.55" y2="263.9" class="ax"/>
<line x1="367.5" y1="261.7" x2="367.5" y2="263.9" class="ax"/>
<line x1="376.45" y1="261.7" x2="376.45" y2="263.9" class="ax"/>
<line x1="286.95" y1="224.24" x2="286.95" y2="244.96" class="er"/>
<line x1="285.95" y1="224.24" x2="287.95" y2="224.24" class="ec"/>
<line x1="285.95" y1="244.96" x2="287.95" y2="244.96" class="ec"/>
<line x1="304.85" y1="183.68" x2="304.85" y2="207.07" class="er"/>
<line x1="303.85" y1="183.68" x2="305.85" y2="183.68" class="ec"/>
<line x1="303.85" y1="207.07" x2="305.85" y2="207.07" class="ec"/>
<line x1="322.75" y1="241.11" x2="322.75" y2="261.83" class="er"/>
<line x1="321.75" y1="241.11" x2="323.75" y2="241.11" class="ec"/>
<line x1="321.75" y1="261.83" x2="323.75" y2="261.83" class="ec"/>
<line x1="340.65" y1="213.28" x2="340.65" y2="240.81" class="er"/>
<line x1="339.65" y1="213.28" x2="341.65" y2="213.28" class="ec"/>
<line x1="339.65" y1="240.81" x2="341.65" y2="240.81" class="ec"/>
<line x1="358.55" y1="227.49" x2="358.55" y2="253.54" class="er"/>
<line x1="357.55" y1="227.49" x2="359.55" y2="227.49" class="ec"/>
<line x1="357.55" y1="253.54" x2="359.55" y2="253.54" class="ec"/>
<line x1="376.45" y1="250.58" x2="376.45" y2="263.9" class="er"/>
<line x1="375.45" y1="250.58" x2="377.45" y2="250.58" class="ec"/>
<polyline points="286.95,235.19 304.85,195.23 322.75,251.76 340.65,234.3 358.55,244.36 376.45,260.05" fill="none" stroke="#4a7cc0" class="ln"/>
<circle cx="286.95" cy="235.19" r="1.2" fill="#4a7cc0"/>
<circle cx="304.85" cy="195.23" r="1.2" fill="#4a7cc0"/>
<circle cx="322.75" cy="251.76" r="1.2" fill="#4a7cc0"/>
<circle cx="340.65" cy="234.3" r="1.2" fill="#4a7cc0"/>
<circle cx="358.55" cy="244.36" r="1.2" fill="#4a7cc0"/>
<circle cx="376.45" cy="260.05" r="1.2" fill="#4a7cc0"/>
<polyline points="286.95,233.71 304.85,192.56 322.75,250.58 340.65,225.12 358.55,238.15 376.45,260.05" fill="none" stroke="#ff0000" class="ln"/>
<circle cx="286.95" cy="233.71" r="1.2" fill="#ff0000"/>
<circle cx="304.85" cy="192.56" r="1.2" fill="#ff0000"/>
<circle cx="322.75" cy="250.58" r="1.2" fill="#ff0000"/>
<circle cx="340.65" cy="225.12" r="1.2" fill="#ff0000"/>
<circle cx="358.55" cy="238.15" r="1.2" fill="#ff0000"/>
<circle cx="376.45" cy="260.05" r="1.2" fill="#ff0000"/>
<polyline points="286.95,234.3 304.85,197 322.75,249.4 340.65,221.57 358.55,235.78 376.45,260.05" fill="none" stroke="#8fd152" class="ln"/>
<circle cx="286.95" cy="234.3" r="1.2" fill="#8fd152"/>
<circle cx="304.85" cy="197" r="1.2" fill="#8fd152"/>
<circle cx="322.75" cy="249.4" r="1.2" fill="#8fd152"/>
<circle cx="340.65" cy="221.57" r="1.2" fill="#8fd152"/>
<circle cx="358.55" cy="235.78" r="1.2" fill="#8fd152"/>
<circle cx="376.45" cy="260.05" r="1.2" fill="#8fd152"/>
<rect x="313.8" y="270.4" width="62.65" height="9.1" fill="#000"/>
<rect x="278" y="270.4" width="98.45" height="9.1" fill="none" stroke="#111" stroke-width="1.1"/>
<text x="286.95" y="288.1" class="xt">4</text>
<text x="304.95" y="288.1" class="xt">8</text>
<text x="323.95" y="288.1" class="xt">12</text>
<text x="341.75" y="288.1" class="xt">16</text>
<text x="359.55" y="288.1" class="xt">20</text>
<text x="376.75" y="288.1" class="xt">24</text>
<text transform="translate(266.6,219.15) rotate(-90) scale(1.08,1)" class="yl"><tspan font-style="italic">Ehd1/ubc</tspan>(x10<tspan class="sup" dy="-1.8">-1</tspan><tspan dy="1.8">)</tspan></text>
<text x="387.6" y="173.6" class="pl">i</text>
<line x1="400.3" y1="176" x2="400.3" y2="264.2" class="ax"/>
<line x1="397.7" y1="264.2" x2="400.3" y2="264.2" class="ax"/>
<text transform="translate(397.4,266.4) scale(0.8,1)" class="yt">0</text>
<line x1="397.7" y1="251.6" x2="400.3" y2="251.6" class="ax"/>
<text transform="translate(397.4,253.8) scale(0.8,1)" class="yt">1</text>
<line x1="397.7" y1="239" x2="400.3" y2="239" class="ax"/>
<text transform="translate(397.4,241.2) scale(0.8,1)" class="yt">2</text>
<line x1="397.7" y1="226.4" x2="400.3" y2="226.4" class="ax"/>
<text transform="translate(397.4,228.6) scale(0.8,1)" class="yt">3</text>
<line x1="397.7" y1="213.8" x2="400.3" y2="213.8" class="ax"/>
<text transform="translate(397.4,216) scale(0.8,1)" class="yt">4</text>
<line x1="397.7" y1="201.2" x2="400.3" y2="201.2" class="ax"/>
<text transform="translate(397.4,203.4) scale(0.8,1)" class="yt">5</text>
<line x1="397.7" y1="188.6" x2="400.3" y2="188.6" class="ax"/>
<text transform="translate(397.4,190.8) scale(0.8,1)" class="yt">6</text>
<line x1="397.7" y1="176" x2="400.3" y2="176" class="ax"/>
<text transform="translate(397.4,178.2) scale(0.8,1)" class="yt">7</text>
<line x1="400.3" y1="264.2" x2="504.84" y2="264.2" class="ax"/>
<line x1="409.39" y1="262" x2="409.39" y2="264.2" class="ax"/>
<line x1="418.48" y1="262" x2="418.48" y2="264.2" class="ax"/>
<line x1="427.57" y1="262" x2="427.57" y2="264.2" class="ax"/>
<line x1="436.66" y1="262" x2="436.66" y2="264.2" class="ax"/>
<line x1="445.75" y1="262" x2="445.75" y2="264.2" class="ax"/>
<line x1="454.84" y1="262" x2="454.84" y2="264.2" class="ax"/>
<line x1="463.93" y1="262" x2="463.93" y2="264.2" class="ax"/>
<line x1="473.02" y1="262" x2="473.02" y2="264.2" class="ax"/>
<line x1="482.11" y1="262" x2="482.11" y2="264.2" class="ax"/>
<line x1="491.2" y1="262" x2="491.2" y2="264.2" class="ax"/>
<line x1="500.29" y1="262" x2="500.29" y2="264.2" class="ax"/>
<line x1="409.39" y1="244.67" x2="409.39" y2="262.44" class="er"/>
<line x1="408.39" y1="244.67" x2="410.39" y2="244.67" class="ec"/>
<line x1="408.39" y1="262.44" x2="410.39" y2="262.44" class="ec"/>
<line x1="427.57" y1="217.08" x2="427.57" y2="235.6" class="er"/>
<line x1="426.57" y1="217.08" x2="428.57" y2="217.08" class="ec"/>
<line x1="426.57" y1="235.6" x2="428.57" y2="235.6" class="ec"/>
<line x1="445.75" y1="208.63" x2="445.75" y2="230.43" class="er"/>
<line x1="444.75" y1="208.63" x2="446.75" y2="208.63" class="ec"/>
<line x1="444.75" y1="230.43" x2="446.75" y2="230.43" class="ec"/>
<line x1="463.93" y1="217.08" x2="463.93" y2="242.28" class="er"/>
<line x1="462.93" y1="217.08" x2="464.93" y2="217.08" class="ec"/>
<line x1="462.93" y1="242.28" x2="464.93" y2="242.28" class="ec"/>
<line x1="482.11" y1="218.84" x2="482.11" y2="230.18" class="er"/>
<line x1="481.11" y1="218.84" x2="483.11" y2="218.84" class="ec"/>
<line x1="481.11" y1="230.18" x2="483.11" y2="230.18" class="ec"/>
<line x1="500.29" y1="245.68" x2="500.29" y2="259.16" class="er"/>
<line x1="499.29" y1="245.68" x2="501.29" y2="245.68" class="ec"/>
<line x1="499.29" y1="259.16" x2="501.29" y2="259.16" class="ec"/>
<polyline points="409.39,258.03 427.57,229.55 445.75,225.77 463.93,236.23 482.11,224.51 500.29,252.36" fill="none" stroke="#4a7cc0" class="ln"/>
<circle cx="409.39" cy="258.03" r="1.2" fill="#4a7cc0"/>
<circle cx="427.57" cy="229.55" r="1.2" fill="#4a7cc0"/>
<circle cx="445.75" cy="225.77" r="1.2" fill="#4a7cc0"/>
<circle cx="463.93" cy="236.23" r="1.2" fill="#4a7cc0"/>
<circle cx="482.11" cy="224.51" r="1.2" fill="#4a7cc0"/>
<circle cx="500.29" cy="252.36" r="1.2" fill="#4a7cc0"/>
<polyline points="409.39,258.03 427.57,228.54 445.75,221.11 463.93,231.19 482.11,224.51 500.29,252.36" fill="none" stroke="#ff0000" class="ln"/>
<circle cx="409.39" cy="258.03" r="1.2" fill="#ff0000"/>
<circle cx="427.57" cy="228.54" r="1.2" fill="#ff0000"/>
<circle cx="445.75" cy="221.11" r="1.2" fill="#ff0000"/>
<circle cx="463.93" cy="231.19" r="1.2" fill="#ff0000"/>
<circle cx="482.11" cy="224.51" r="1.2" fill="#ff0000"/>
<circle cx="500.29" cy="252.36" r="1.2" fill="#ff0000"/>
<polyline points="409.39,251.6 427.57,223.88 445.75,215.44 463.93,223.12 482.11,223.88 500.29,252.36" fill="none" stroke="#8fd152" class="ln"/>
<circle cx="409.39" cy="251.6" r="1.2" fill="#8fd152"/>
<circle cx="427.57" cy="223.88" r="1.2" fill="#8fd152"/>
<circle cx="445.75" cy="215.44" r="1.2" fill="#8fd152"/>
<circle cx="463.93" cy="223.12" r="1.2" fill="#8fd152"/>
<circle cx="482.11" cy="223.88" r="1.2" fill="#8fd152"/>
<circle cx="500.29" cy="252.36" r="1.2" fill="#8fd152"/>
<rect x="436.66" y="270.4" width="63.63" height="9.1" fill="#000"/>
<rect x="400.3" y="270.4" width="99.99" height="9.1" fill="none" stroke="#111" stroke-width="1.1"/>
<text x="409.39" y="288.1" class="xt">4</text>
<text x="427.67" y="288.1" class="xt">8</text>
<text x="446.95" y="288.1" class="xt">12</text>
<text x="465.03" y="288.1" class="xt">16</text>
<text x="483.11" y="288.1" class="xt">20</text>
<text x="500.59" y="288.1" class="xt">24</text>
<text transform="translate(389.4,219.9) rotate(-90) scale(1.08,1)" class="yl"><tspan font-style="italic">Hd3a/ubc</tspan>(x10<tspan class="sup" dy="-1.8">-1</tspan><tspan dy="1.8">)</tspan></text>
<text x="513.2" y="173.6" class="pl">j</text>
<line x1="526.2" y1="175.8" x2="526.2" y2="264.1" class="ax"/>
<line x1="523.6" y1="264.1" x2="526.2" y2="264.1" class="ax"/>
<text transform="translate(523.3,266.3) scale(0.8,1)" class="yt">0</text>
<line x1="523.6" y1="253.06" x2="526.2" y2="253.06" class="ax"/>
<text transform="translate(523.3,255.26) scale(0.8,1)" class="yt">1</text>
<line x1="523.6" y1="242.03" x2="526.2" y2="242.03" class="ax"/>
<text transform="translate(523.3,244.23) scale(0.8,1)" class="yt">2</text>
<line x1="523.6" y1="230.99" x2="526.2" y2="230.99" class="ax"/>
<text transform="translate(523.3,233.19) scale(0.8,1)" class="yt">3</text>
<line x1="523.6" y1="219.95" x2="526.2" y2="219.95" class="ax"/>
<text transform="translate(523.3,222.15) scale(0.8,1)" class="yt">4</text>
<line x1="523.6" y1="208.91" x2="526.2" y2="208.91" class="ax"/>
<text transform="translate(523.3,211.11) scale(0.8,1)" class="yt">5</text>
<line x1="523.6" y1="197.88" x2="526.2" y2="197.88" class="ax"/>
<text transform="translate(523.3,200.07) scale(0.8,1)" class="yt">6</text>
<line x1="523.6" y1="186.84" x2="526.2" y2="186.84" class="ax"/>
<text transform="translate(523.3,189.04) scale(0.8,1)" class="yt">7</text>
<line x1="523.6" y1="175.8" x2="526.2" y2="175.8" class="ax"/>
<text transform="translate(523.3,178) scale(0.8,1)" class="yt">8</text>
<line x1="526.2" y1="264.1" x2="634.92" y2="264.1" class="ax"/>
<line x1="535.26" y1="261.9" x2="535.26" y2="264.1" class="ax"/>
<line x1="544.32" y1="261.9" x2="544.32" y2="264.1" class="ax"/>
<line x1="553.38" y1="261.9" x2="553.38" y2="264.1" class="ax"/>
<line x1="562.44" y1="261.9" x2="562.44" y2="264.1" class="ax"/>
<line x1="571.5" y1="261.9" x2="571.5" y2="264.1" class="ax"/>
<line x1="580.56" y1="261.9" x2="580.56" y2="264.1" class="ax"/>
<line x1="589.62" y1="261.9" x2="589.62" y2="264.1" class="ax"/>
<line x1="598.68" y1="261.9" x2="598.68" y2="264.1" class="ax"/>
<line x1="607.74" y1="261.9" x2="607.74" y2="264.1" class="ax"/>
<line x1="616.8" y1="261.9" x2="616.8" y2="264.1" class="ax"/>
<line x1="625.86" y1="261.9" x2="625.86" y2="264.1" class="ax"/>
<line x1="634.92" y1="261.9" x2="634.92" y2="264.1" class="ax"/>
<line x1="535.26" y1="246.88" x2="535.26" y2="259.35" class="er"/>
<line x1="534.26" y1="246.88" x2="536.26" y2="246.88" class="ec"/>
<line x1="534.26" y1="259.35" x2="536.26" y2="259.35" class="ec"/>
<line x1="553.38" y1="243.57" x2="553.38" y2="257.04" class="er"/>
<line x1="552.38" y1="243.57" x2="554.38" y2="243.57" class="ec"/>
<line x1="552.38" y1="257.04" x2="554.38" y2="257.04" class="ec"/>
<line x1="571.5" y1="226.57" x2="571.5" y2="248.65" class="er"/>
<line x1="570.5" y1="226.57" x2="572.5" y2="226.57" class="ec"/>
<line x1="570.5" y1="248.65" x2="572.5" y2="248.65" class="ec"/>
<line x1="589.62" y1="240.92" x2="589.62" y2="257.04" class="er"/>
<line x1="588.62" y1="240.92" x2="590.62" y2="240.92" class="ec"/>
<line x1="588.62" y1="257.04" x2="590.62" y2="257.04" class="ec"/>
<line x1="607.74" y1="201.63" x2="607.74" y2="221.83" class="er"/>
<line x1="606.74" y1="201.63" x2="608.74" y2="201.63" class="ec"/>
<line x1="606.74" y1="221.83" x2="608.74" y2="221.83" class="ec"/>
<line x1="625.86" y1="224.03" x2="625.86" y2="241.58" class="er"/>
<line x1="624.86" y1="224.03" x2="626.86" y2="224.03" class="ec"/>
<line x1="624.86" y1="241.58" x2="626.86" y2="241.58" class="ec"/>
<polyline points="535.26,253.39 553.38,250.63 571.5,241.8 589.62,250.86 607.74,214.65 625.86,235.95" fill="none" stroke="#4a7cc0" class="ln"/>
<circle cx="535.26" cy="253.39" r="1.2" fill="#4a7cc0"/>
<circle cx="553.38" cy="250.63" r="1.2" fill="#4a7cc0"/>
<circle cx="571.5" cy="241.8" r="1.2" fill="#4a7cc0"/>
<circle cx="589.62" cy="250.86" r="1.2" fill="#4a7cc0"/>
<circle cx="607.74" cy="214.65" r="1.2" fill="#4a7cc0"/>
<circle cx="625.86" cy="235.95" r="1.2" fill="#4a7cc0"/>
<polyline points="535.26,253.39 553.38,250.63 571.5,239.82 589.62,249.31 607.74,214.1 625.86,233.2" fill="none" stroke="#ff0000" class="ln"/>
<circle cx="535.26" cy="253.39" r="1.2" fill="#ff0000"/>
<circle cx="553.38" cy="250.63" r="1.2" fill="#ff0000"/>
<circle cx="571.5" cy="239.82" r="1.2" fill="#ff0000"/>
<circle cx="589.62" cy="249.31" r="1.2" fill="#ff0000"/>
<circle cx="607.74" cy="214.1" r="1.2" fill="#ff0000"/>
<circle cx="625.86" cy="233.2" r="1.2" fill="#ff0000"/>
<polyline points="535.26,253.39 553.38,250.63 571.5,232.64 589.62,247.54 607.74,208.91 625.86,230.66" fill="none" stroke="#8fd152" class="ln"/>
<circle cx="535.26" cy="253.39" r="1.2" fill="#8fd152"/>
<circle cx="553.38" cy="250.63" r="1.2" fill="#8fd152"/>
<circle cx="571.5" cy="232.64" r="1.2" fill="#8fd152"/>
<circle cx="589.62" cy="247.54" r="1.2" fill="#8fd152"/>
<circle cx="607.74" cy="208.91" r="1.2" fill="#8fd152"/>
<circle cx="625.86" cy="230.66" r="1.2" fill="#8fd152"/>
<rect x="562.44" y="270.4" width="63.42" height="9.1" fill="#000"/>
<rect x="526.2" y="270.4" width="99.66" height="9.1" fill="none" stroke="#111" stroke-width="1.1"/>
<text x="535.26" y="288.1" class="xt">4</text>
<text x="553.48" y="288.1" class="xt">8</text>
<text x="572.7" y="288.1" class="xt">12</text>
<text x="590.72" y="288.1" class="xt">16</text>
<text x="608.74" y="288.1" class="xt">20</text>
<text x="626.16" y="288.1" class="xt">24</text>
<text transform="translate(514.1,219.75) rotate(-90) scale(1.08,1)" class="yl"><tspan font-style="italic">RFT1/ubc</tspan>(x10<tspan class="sup" dy="-1.8">-1</tspan><tspan dy="1.8">)</tspan></text>
<text x="3" y="136.1" class="zt">ZT(h)</text>
<text x="3" y="288.3" class="zt">ZT(h)</text>
<text x="313.3" y="10.3" class="tt">CLD</text>
<text x="313.7" y="153.7" class="tt">CSD</text>
<line x1="649.6" y1="28.4" x2="667.4" y2="28.4" stroke="#4a7cc0" stroke-width="1.5"/>
<circle cx="658.5" cy="28.4" r="2.1" fill="#4a7cc0"/>
<text x="669.3" y="31.1" class="lg">P&#8211;1</text>
<line x1="649.6" y1="38.9" x2="667.4" y2="38.9" stroke="#ff0000" stroke-width="1.5"/>
<circle cx="658.5" cy="38.9" r="2.1" fill="#ff0000"/>
<text x="669.3" y="41.6" class="lg">P&#8211;2</text>
<line x1="649.6" y1="49.5" x2="667.4" y2="49.5" stroke="#8fd152" stroke-width="1.5"/>
<circle cx="658.5" cy="49.5" r="2.1" fill="#8fd152"/>
<text x="669.3" y="52.2" class="lg">P&#8211;3</text>
<line x1="651.1" y1="174.9" x2="669.0" y2="174.9" stroke="#4a7cc0" stroke-width="1.5"/>
<circle cx="659.8" cy="174.9" r="2.1" fill="#4a7cc0"/>
<text x="671.2" y="177.6" class="lg">P&#8211;1</text>
<line x1="651.1" y1="185.0" x2="669.0" y2="185.0" stroke="#ff0000" stroke-width="1.5"/>
<circle cx="659.8" cy="185.0" r="2.1" fill="#ff0000"/>
<text x="671.2" y="187.7" class="lg">P&#8211;2</text>
<line x1="651.1" y1="195.5" x2="669.0" y2="195.5" stroke="#8fd152" stroke-width="1.5"/>
<circle cx="659.8" cy="195.5" r="2.1" fill="#8fd152"/>
<text x="671.2" y="198.2" class="lg">P&#8211;3</text>
</svg>
</body></html>
